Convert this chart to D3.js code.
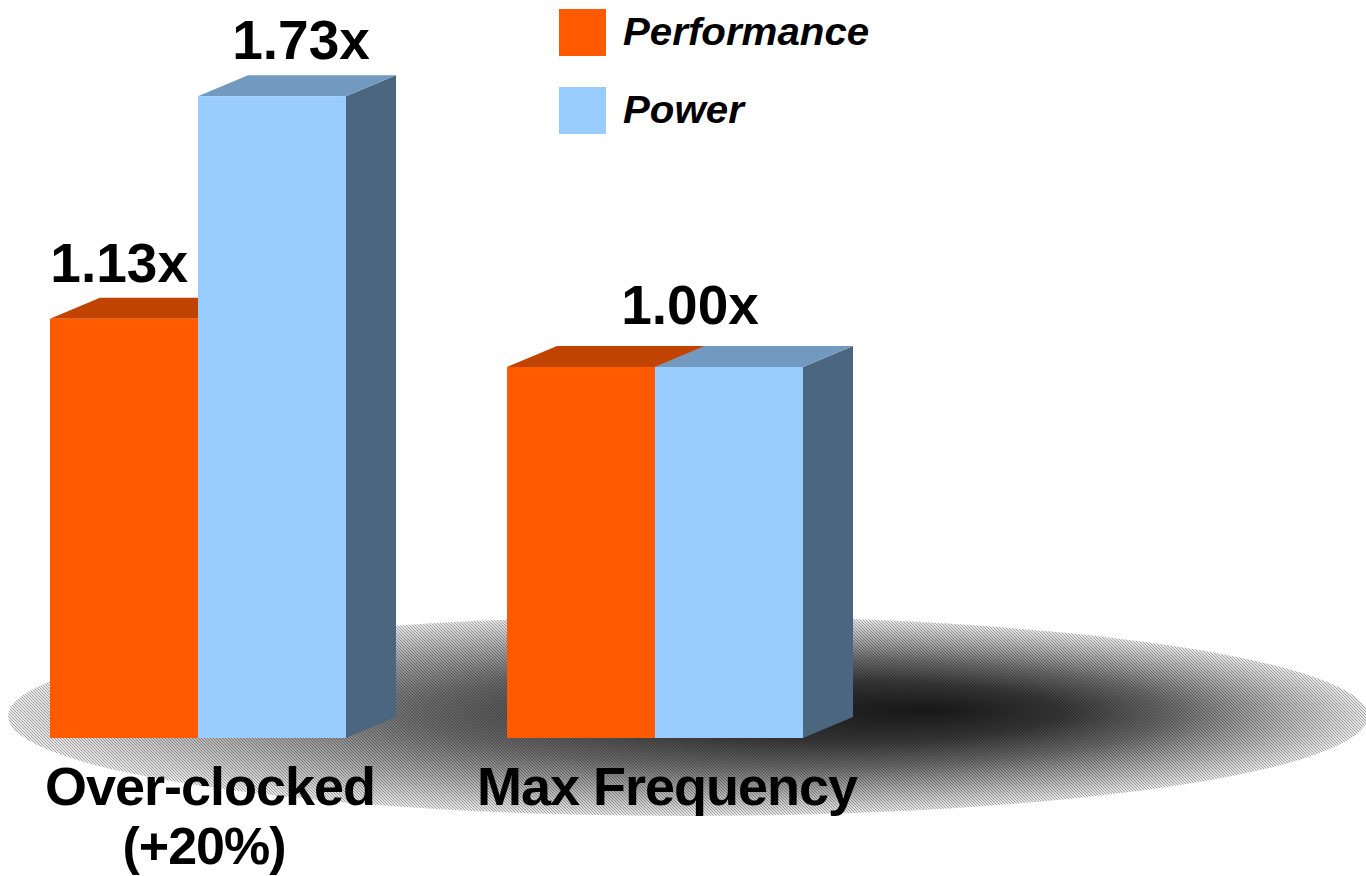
<!DOCTYPE html>
<html>
<head>
<meta charset="utf-8">
<script src="https://cdn.jsdelivr.net/npm/d3@7"></script>
<style>
  html, body { margin: 0; padding: 0; background: #fff; }
  svg { display: block; }
</style>
</head>
<body>
<svg id="chart" width="1366" height="876"></svg>
<script>
// Categories and series values
const categories = ["Over-clocked (+20%)", "Max Frequency"];
const categoryLines = [["Over-clocked", "(+20%)"], ["Max Frequency"]];
const seriesNames = ["Performance", "Power"];
const performance = [1.13, 1.00];
const power = [1.73, 1.00];

// Colours per series: front, top, side
const frontColors = ["#FF5A00", "#99CCFF"];
const topColors = ["#C04400", "#7299BF"];
const sideColors = ["#A33A00", "#4C6680"];

const baseY = 738;
const depthX = 50, depthY = -21;

const svg = d3.select("#chart");
const defs = svg.append("defs");

const seriesValues = [performance, power];
const rows = categories.map((c, i) => ({
  category: c,
  lines: categoryLines[i],
  values: seriesNames.map((s, j) => ({ series: s, index: j, value: seriesValues[j][i] }))
}));

const x0 = d3.scaleBand().domain(categories).range([50, 803]).paddingInner(161 / 457).paddingOuter(0);
const x1 = d3.scaleBand().domain(seriesNames).range([0, x0.bandwidth()]).padding(0);
const y = d3.scaleLinear().domain([0, 1]).range([baseY, 367]);

// Floor shadow under the bars: soft radial fill plus a fine dot screen
const floor = { cx: 688, cy: 716, rx: 680, ry: 100 };
const grad = defs.append("radialGradient")
  .attr("id", "floorShadow")
  .attr("cx", 0.5).attr("cy", 0.5).attr("r", 0.5)
  .attr("fx", 0.68).attr("fy", 0.47);
[[0, 0.9], [0.3, 0.78], [0.55, 0.58], [0.8, 0.3], [1, 0.08]].forEach(([o, a]) => {
  grad.append("stop").attr("offset", o).attr("stop-color", "#000").attr("stop-opacity", a);
});
const dots = defs.append("pattern")
  .attr("id", "dither").attr("width", 3).attr("height", 3)
  .attr("patternUnits", "userSpaceOnUse");
dots.append("rect").attr("width", 3).attr("height", 3).attr("fill", "#fff");
dots.append("rect").attr("width", 1).attr("height", 1).attr("fill", "#000");
dots.append("rect").attr("x", 1).attr("y", 1).attr("width", 1).attr("height", 1).attr("fill", "#000");
dots.append("rect").attr("x", 2).attr("y", 2).attr("width", 1).attr("height", 1).attr("fill", "#000");

const shadow = svg.append("g").attr("class", "shadow");
shadow.append("ellipse")
  .attr("cx", floor.cx).attr("cy", floor.cy).attr("rx", floor.rx).attr("ry", floor.ry)
  .attr("fill", "url(#dither)").attr("opacity", 0.3);
shadow.append("ellipse")
  .attr("cx", floor.cx).attr("cy", floor.cy).attr("rx", floor.rx).attr("ry", floor.ry)
  .attr("fill", "url(#floorShadow)");

// 3D bars
const groups = svg.append("g").selectAll("g.group")
  .data(rows).join("g")
  .attr("class", "group")
  .attr("transform", d => `translate(${x0(d.category)},0)`);

groups.each(function(d) {
  const g = d3.select(this);
  d.values.forEach(b => {
    const bx = x1(b.series), bw = x1.bandwidth();
    const top = y(b.value), bottom = y(0);
    const bar = g.append("g").attr("class", "bar");
    // side face
    bar.append("path")
      .attr("d", `M${bx + bw},${top} L${bx + bw + depthX},${top + depthY} L${bx + bw + depthX},${bottom + depthY} L${bx + bw},${bottom} Z`)
      .attr("fill", sideColors[b.index]);
    // top face
    bar.append("path")
      .attr("d", `M${bx},${top} L${bx + depthX},${top + depthY} L${bx + bw + depthX},${top + depthY} L${bx + bw},${top} Z`)
      .attr("fill", topColors[b.index]);
    // front face
    bar.append("rect")
      .attr("x", bx).attr("y", top)
      .attr("width", bw).attr("height", bottom - top)
      .attr("fill", frontColors[b.index]);
  });
});

// Value labels
const fmt = v => d3.format(".2f")(v) + "x";
const fontFamily = "'Liberation Sans', Arial, sans-serif";
groups.each(function(d) {
  const g = d3.select(this);
  const vals = d.values.map(v => v.value);
  const allEqual = vals.every(v => v === vals[0]);
  if (allEqual) {
    // one shared label when every series has the same value
    g.append("text")
      .attr("class", "value")
      .attr("x", x0.bandwidth() / 2 + depthX / 2 + 10)
      .attr("y", y(vals[0]) + depthY - 22)
      .attr("text-anchor", "middle")
      .text(fmt(vals[0]));
  } else {
    d.values.forEach((b, k) => {
      const bx = x1(b.series), bw = x1.bandwidth();
      const next = d.values[k + 1];
      const t = g.append("text").attr("class", "value")
        .attr("y", y(b.value) + depthY - 16).text(fmt(b.value));
      if (next && next.value > b.value) {
        // keep the label clear of the taller neighbour
        t.attr("x", x1(next.series) - 10).attr("text-anchor", "end");
      } else {
        t.attr("x", bx + bw / 2 + depthX / 2 + 4).attr("text-anchor", "middle");
      }
    });
  }
});
groups.selectAll("text.value")
  .attr("font-family", fontFamily)
  .attr("font-weight", "bold")
  .attr("font-size", 55)
  .attr("fill", "#000");

// Category labels, one line per text element
groups.each(function(d) {
  const g = d3.select(this);
  const cx = x0.bandwidth() / 2 + 12;
  d.lines.forEach((line, li) => {
    g.append("text")
      .attr("class", "category")
      .attr("x", cx - (li ? 6 : 0))
      .attr("y", li ? 864 : 805)
      .attr("text-anchor", "middle")
      .attr("font-family", fontFamily)
      .attr("font-weight", "bold")
      .attr("font-size", li ? 52 : 54)
      .attr("letter-spacing", -1)
      .attr("fill", "#000")
      .text(line);
  });
});

// Legend
const legend = svg.append("g").attr("class", "legend").attr("transform", "translate(559,9)");
const li = legend.selectAll("g").data(seriesNames).join("g")
  .attr("transform", (d, i) => `translate(0,${i * 78})`);
li.append("rect").attr("width", 47).attr("height", 47).attr("fill", (d, i) => frontColors[i]);
li.append("text")
  .attr("transform", "translate(64,36) scale(1.06,1)")
  .attr("font-family", fontFamily)
  .attr("font-weight", "bold")
  .attr("font-style", "italic")
  .attr("font-size", 38)
  .attr("fill", "#000")
  .text(d => d);
</script>
</body>
</html>
